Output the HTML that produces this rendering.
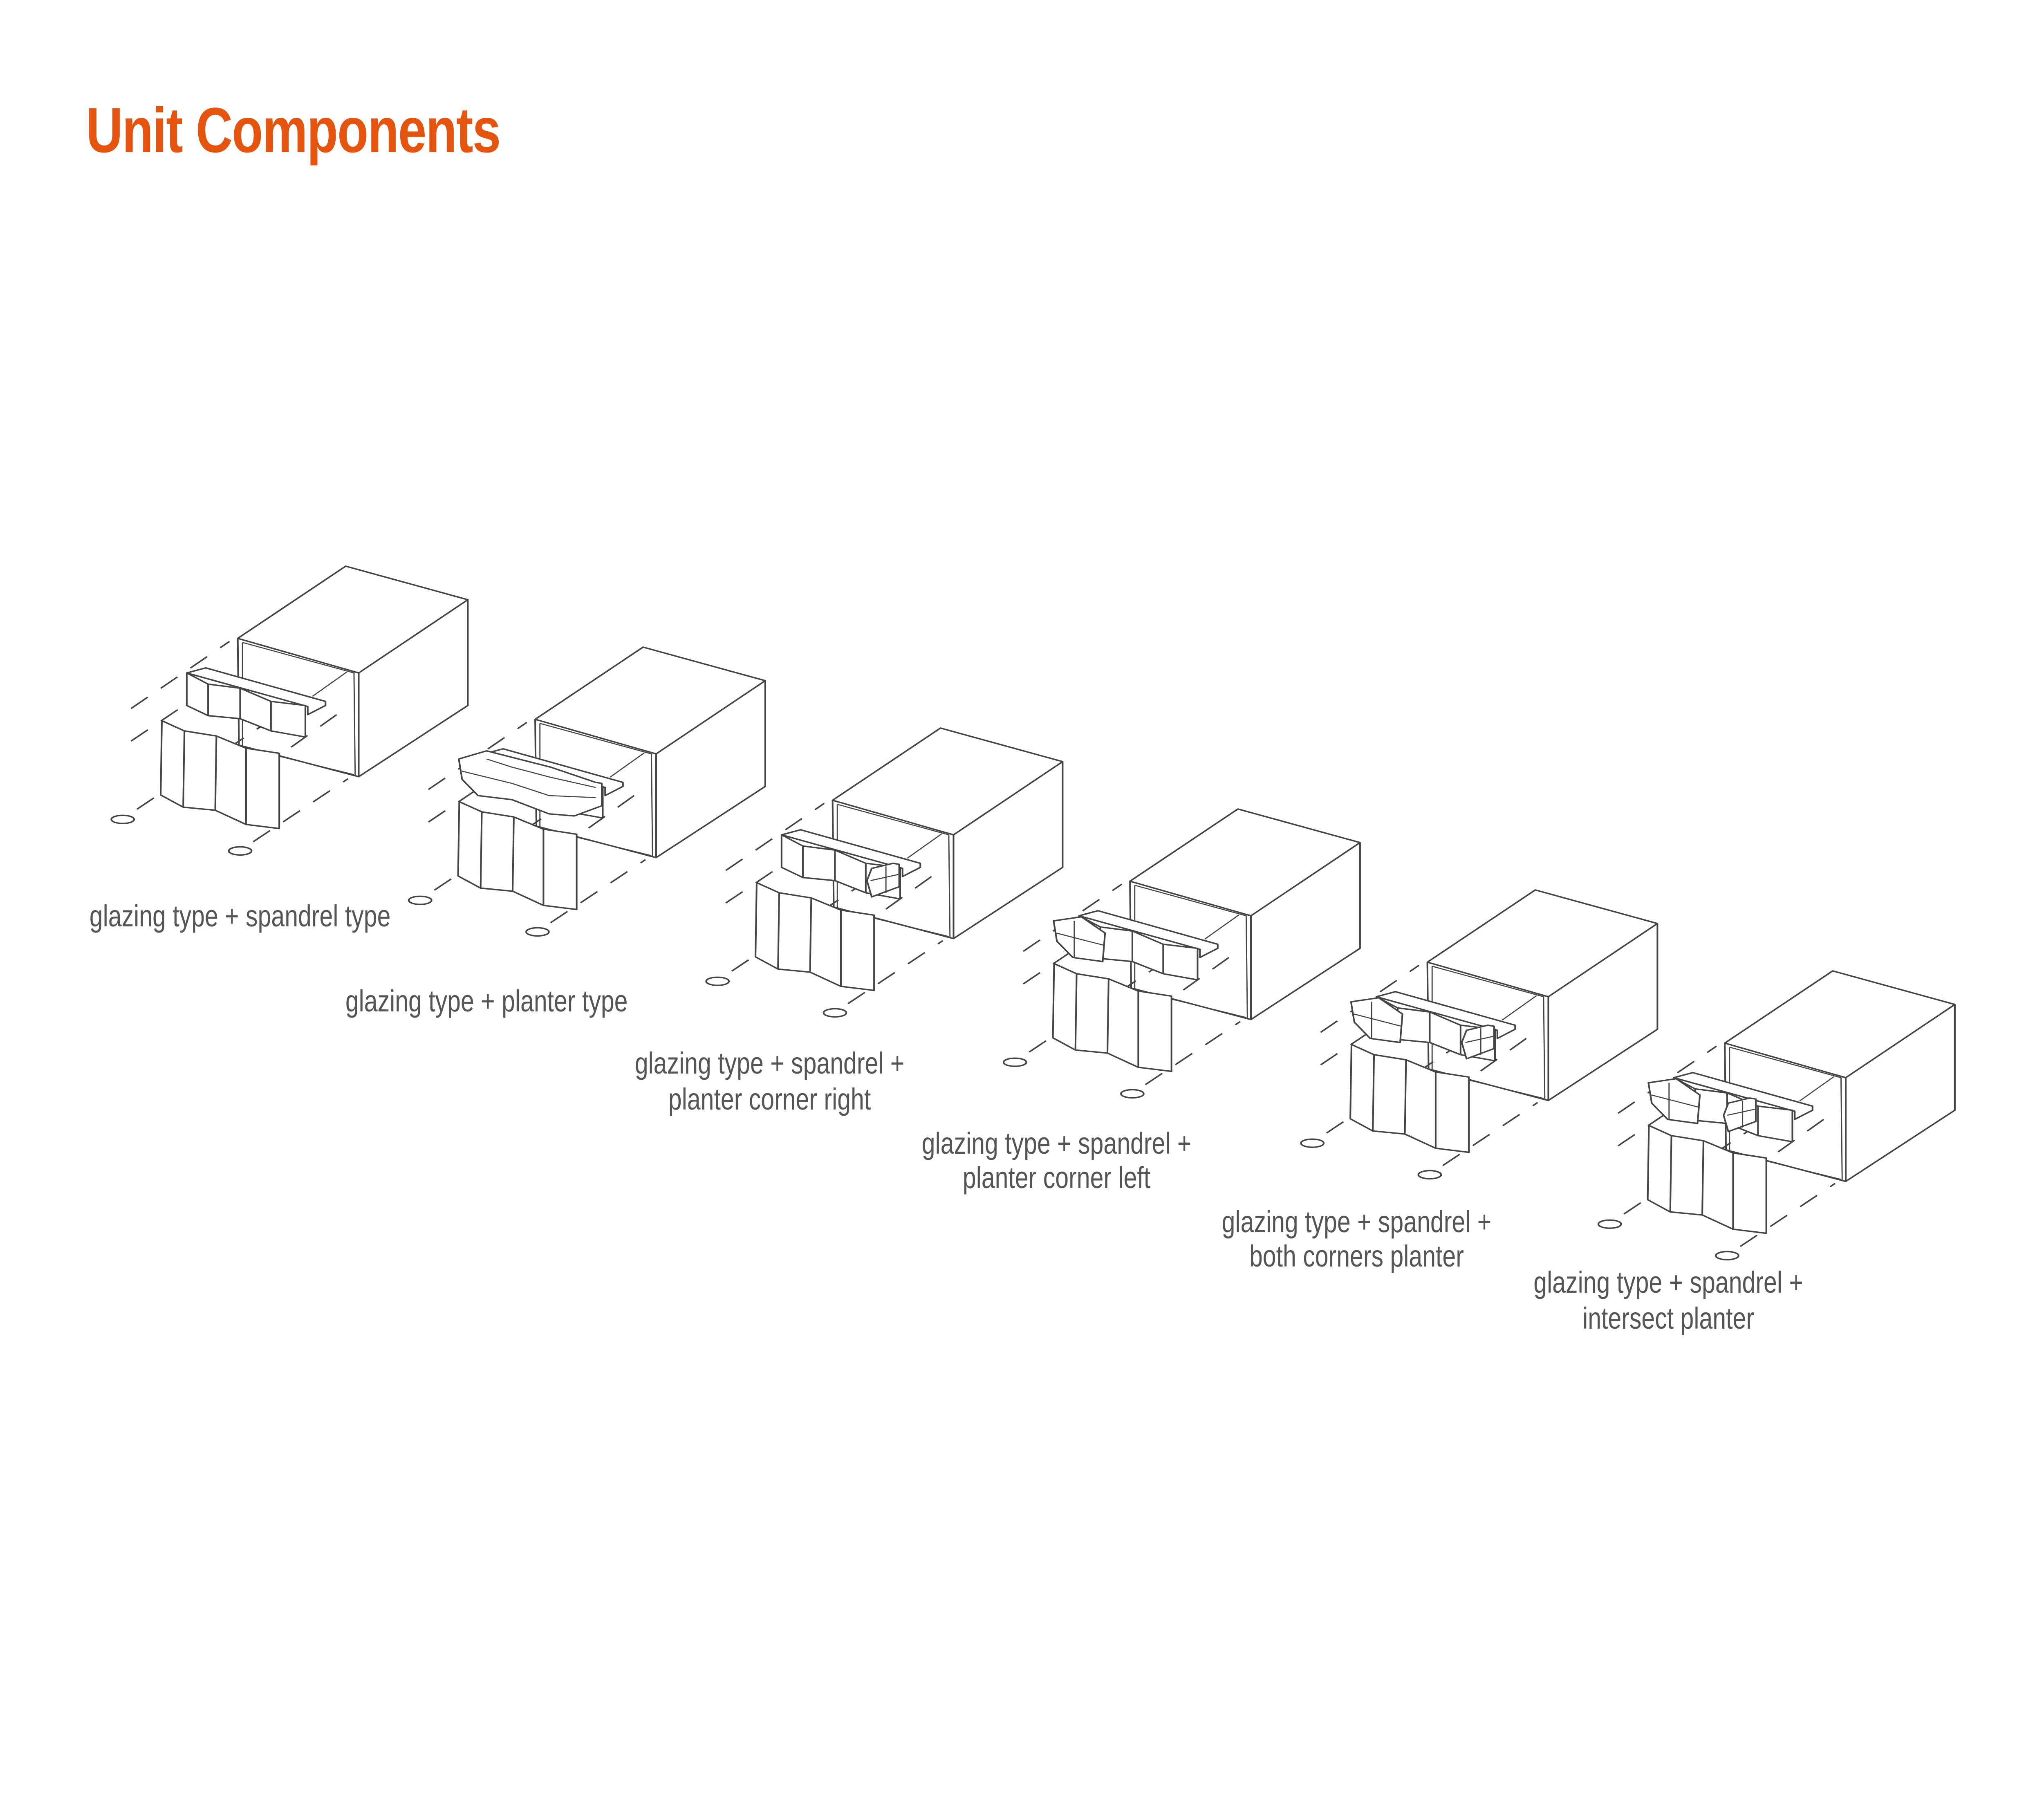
<!DOCTYPE html>
<html><head><meta charset="utf-8"><style>
html,body{margin:0;padding:0;background:#fff;width:100%;height:100%;overflow:hidden}
svg{display:block;position:absolute;left:0;top:0;width:100vw;height:100vh}
</style></head><body>
<svg viewBox="0 0 6268 4420" preserveAspectRatio="none" xmlns="http://www.w3.org/2000/svg">
<defs>
<g id="base" fill="none" stroke="#444" stroke-width="7" stroke-linejoin="round">
  <g stroke-dasharray="90 70">
    <line x1="85" y1="750" x2="500" y2="420"/>
    <line x1="85" y1="910" x2="330" y2="718"/>
    <line x1="110" y1="1245" x2="720" y2="770"/>
    <line x1="600" y1="1405" x2="1000" y2="1095"/>
    <line x1="760" y1="940" x2="1000" y2="740"/>
  </g>
  <ellipse cx="50" cy="1295" rx="48" ry="20"/>
  <ellipse cx="545" cy="1450" rx="48" ry="20"/>
  <path d="M535 405 L990 50 L1505 215 L1505 735 L1045 1085 L540 930 Z"/>
  <path d="M535 405 L1045 575 L1505 215 M1045 575 L1045 1085"/>
  <path d="M555 425 L555 935 M555 425 L1025 575 L1030 1080 M555 940 L1025 1075" stroke-width="5"/>
  <path d="M850 690 L995 570" stroke-width="5"/>
  <g fill="#fff">
    <path d="M400 550 L905 715 L905 735 L830 780 L830 740 L320 575 Z"/>
    <path d="M320 575 L410 630 L545 650 L675 715 L820 735 L820 890 L675 860 L545 800 L410 785 L320 735 Z"/>
    <path d="M215 810 L310 860 L445 885 L570 945 L710 970 L710 1340 L570 1320 L440 1250 L305 1235 L210 1175 Z"/>
  </g>
  <path d="M410 630 L410 785 M545 650 L545 800 M675 715 L675 860"/>
  <path d="M310 860 L305 1235 M445 885 L440 1250 M570 945 L570 1320"/>
</g>
<g id="pl" fill="#fff" stroke="#444" stroke-width="7" stroke-linejoin="round">
  <path d="M213 600 L227 700 L294 780 L437 800 L594 870 L700 880 L816 830 L816 720 L790 715 L600 640 L330 560 Z"/>
  <path d="M227 660 L437 720 L594 780 L790 790 M330 600 L437 640 L600 690 L790 740" stroke-width="5"/>
</g>
<g id="pL" fill="#fff" stroke="#444" stroke-width="7" stroke-linejoin="round">
  <path d="M213 600 L227 700 L294 780 L420 800 L430 660 L330 580 Z"/>
  <path d="M225 660 L425 720 M300 600 L300 780" stroke-width="5"/>
</g>
<g id="pR" fill="#fff" stroke="#444" stroke-width="7" stroke-linejoin="round">
  <path d="M680 800 L700 880 L816 830 L816 720 L790 715 L700 740 Z"/>
  <path d="M695 800 L812 770 M760 730 L760 860" stroke-width="5"/>
</g>
</defs>
<text x="264" y="372" font-family="Liberation Sans, sans-serif" font-weight="bold" font-size="156" fill="#E5540E" letter-spacing="-2">Unit Components</text>
<g transform="translate(340,1360) scale(0.7273,0.4975)"><use href="#base"/></g>
<g transform="translate(1252,1558) scale(0.7273,0.4975)"><use href="#base"/><use href="#pl"/></g>
<g transform="translate(2164,1756) scale(0.7273,0.4975)"><use href="#base"/><use href="#pR"/></g>
<g transform="translate(3076,1954) scale(0.7273,0.4975)"><use href="#base"/><use href="#pL"/></g>
<g transform="translate(3988,2152) scale(0.7273,0.4975)"><use href="#base"/><use href="#pL"/><use href="#pR"/></g>
<g transform="translate(4900,2350) scale(0.7273,0.4975)"><use href="#base"/><use href="#pL"/><use href="#pR" transform="translate(-150,-40)"/></g>
<g font-family="Liberation Sans, sans-serif" font-size="74" fill="#555" text-anchor="middle">
  <text x="736" y="2266">glazing type + spandrel type</text>
  <text x="1492" y="2474">glazing type + planter type</text>
  <text x="2360" y="2626">glazing type + spandrel +</text>
  <text x="2360" y="2714">planter corner right</text>
  <text x="3240" y="2822">glazing type + spandrel +</text>
  <text x="3240" y="2906">planter corner left</text>
  <text x="4160" y="3014">glazing type + spandrel +</text>
  <text x="4160" y="3098">both corners planter</text>
  <text x="5116" y="3162">glazing type + spandrel +</text>
  <text x="5116" y="3250">intersect planter</text>
</g>
</svg>
</body></html>
